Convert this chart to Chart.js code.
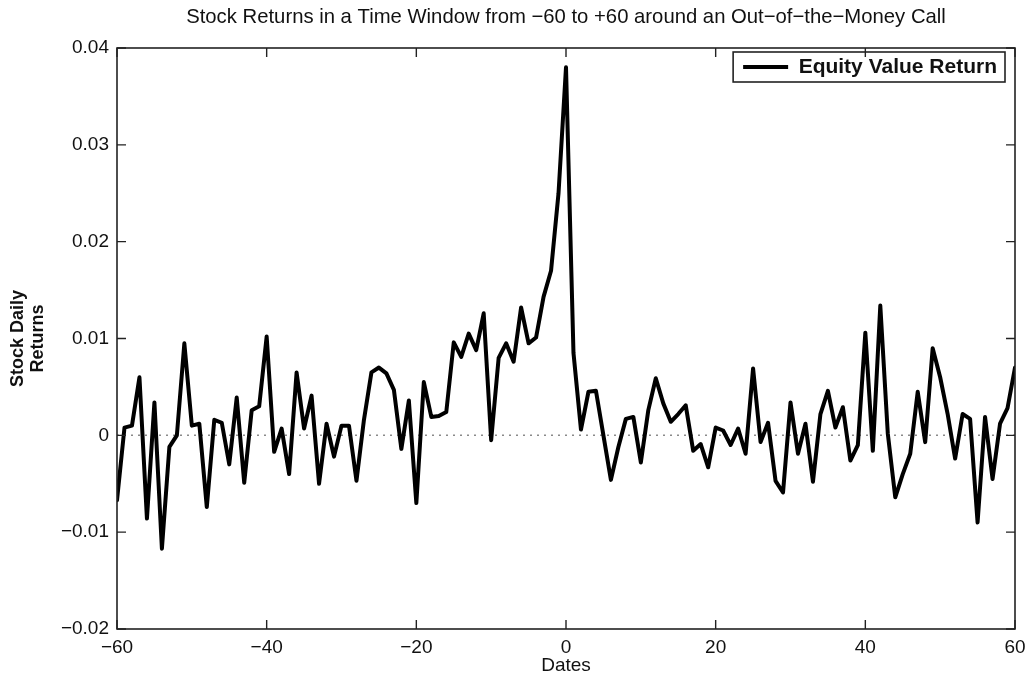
<!DOCTYPE html>
<html><head><meta charset="utf-8">
<script src="https://cdn.jsdelivr.net/npm/chart.js@4.4.0/dist/chart.umd.min.js"></script>
<style>html,body{margin:0;padding:0;background:#fff}#wrap{width:1030px;height:680px}</style>
</head><body><div id="wrap"><canvas id="c" width="1030" height="680"></canvas></div>
<script>
const titleText = 'Stock Returns in a Time Window from \u221260 to +60 around an Out\u2212of\u2212the\u2212Money Call';
const seriesName = 'Equity Value Return';
const dates = [
 -60,-59,-58,-57,-56,-55,-54,-53,-52,-51,
 -50,-49,-48,-47,-46,-45,-44,-43,-42,-41,
 -40,-39,-38,-37,-36,-35,-34,-33,-32,-31,
 -30,-29,-28,-27,-26,-25,-24,-23,-22,-21,
 -20,-19,-18,-17,-16,-15,-14,-13,-12,-11,
 -10,-9,-8,-7,-6,-5,-4,-3,-2,-1,
 0,1,2,3,4,5,6,7,8,9,
 10,11,12,13,14,15,16,17,18,19,
 20,21,22,23,24,25,26,27,28,29,
 30,31,32,33,34,35,36,37,38,39,
 40,41,42,43,44,45,46,47,48,49,
 50,51,52,53,54,55,56,57,58,59,
 60];
const returns = [
 -0.0067,0.0008,0.0010,0.0060,-0.0086,0.0034,-0.0117,-0.0012,0.0000,0.0095,
 0.0010,0.0012,-0.0074,0.0016,0.0013,-0.0030,0.0039,-0.0049,0.0026,0.0030,
 0.0102,-0.0017,0.0007,-0.0040,0.0065,0.0007,0.0041,-0.0050,0.0012,-0.0022,
 0.0010,0.0010,-0.0047,0.0016,0.0065,0.0070,0.0064,0.0047,-0.0014,0.0036,
 -0.0070,0.0055,0.0019,0.0020,0.0024,0.0096,0.0081,0.0105,0.0088,0.0126,
 -0.0005,0.0080,0.0095,0.0076,0.0132,0.0095,0.0101,0.0143,0.0170,0.0250,
 0.0380,0.0085,0.0006,0.0045,0.0046,0.0000,-0.0046,-0.0012,0.0017,0.0019,
 -0.0028,0.0026,0.0059,0.0033,0.0014,0.0022,0.0031,-0.0016,-0.0009,-0.0033,
 0.0008,0.0005,-0.0010,0.0007,-0.0019,0.0069,-0.0007,0.0013,-0.0047,-0.0059,
 0.0034,-0.0019,0.0012,-0.0048,0.0022,0.0046,0.0008,0.0029,-0.0026,-0.0010,
 0.0106,-0.0016,0.0134,0.0002,-0.0064,-0.0040,-0.0019,0.0045,-0.0007,0.0090,
 0.0060,0.0022,-0.0024,0.0022,0.0017,-0.0090,0.0019,-0.0045,0.0012,0.0028,
 0.0070];
const xTicks = [-60,-40,-20,0,20,40,60];
const yTicks = [-0.02,-0.01,0,0.01,0.02,0.03,0.04];

const FONT = "'Liberation Sans', Arial, sans-serif";
const INK = '#111';
const LEG_PAD = 10;

function fmtMinus(s) { return s.replace('-', '\u2212'); }

const framePlugin = {
  id: 'frame',
  afterLayout(chart) {
    const lg = chart.legend, a = chart.chartArea;
    if (!lg || !lg.legendHitBoxes || !lg.legendHitBoxes.length) return;
    const hb = lg.legendHitBoxes[0];
    const borderRight = a.right - 10;
    const hbLeft = borderRight - 8 - hb.width;
    const w = lg.width, h = lg.height;
    lg.left = hbLeft - LEG_PAD;
    lg.right = lg.left + w;
    lg.top = a.top + 19 - hb.height / 2 - LEG_PAD;
    lg.bottom = lg.top + h;
  },
  beforeDatasetsDraw(chart) {
    const {ctx, chartArea: a, scales: {y}} = chart;
    const py = y.getPixelForValue(0);
    ctx.save();
    ctx.strokeStyle = '#8a8a8a'; ctx.lineWidth = 1.5; ctx.setLineDash([2, 5]);
    ctx.beginPath(); ctx.moveTo(a.left, py); ctx.lineTo(a.right, py); ctx.stroke();
    ctx.restore();
  },
  afterDraw(chart) {
    const {ctx, chartArea: a, scales: {x, y}} = chart;
    ctx.save();
    ctx.fillStyle = INK;
    ctx.font = "normal 20.3px " + FONT;
    ctx.textAlign = 'center'; ctx.textBaseline = 'middle';
    ctx.fillText(titleText, (a.left + a.right) / 2, 17);
    ctx.strokeStyle = '#222'; ctx.lineWidth = 1.6;
    ctx.strokeRect(a.left, a.top, a.right - a.left, a.bottom - a.top);
    ctx.lineWidth = 1.4;
    ctx.beginPath();
    xTicks.forEach(v => {
      const px = x.getPixelForValue(v);
      ctx.moveTo(px, a.bottom); ctx.lineTo(px, a.bottom - 9);
      ctx.moveTo(px, a.top); ctx.lineTo(px, a.top + 9);
    });
    yTicks.forEach(v => {
      const py = y.getPixelForValue(v);
      ctx.moveTo(a.left, py); ctx.lineTo(a.left + 9, py);
      ctx.moveTo(a.right, py); ctx.lineTo(a.right - 9, py);
    });
    ctx.stroke();
    const hb = chart.legend && chart.legend.legendHitBoxes && chart.legend.legendHitBoxes[0];
    if (hb) {
      ctx.lineWidth = 1.6; ctx.strokeStyle = '#222';
      const cy = hb.top + hb.height / 2;
      ctx.strokeRect(hb.left - 10, cy - 15, hb.width + 18, 30);
    }
    ctx.restore();
  }
};

const points = dates.map((d, i) => ({x: d, y: returns[i]}));

new Chart(document.getElementById('c'), {
  type: 'line',
  data: {
    datasets: [{
      label: seriesName,
      data: points,
      borderColor: '#000',
      backgroundColor: '#000',
      borderWidth: 4,
      pointRadius: 0,
      tension: 0,
      fill: false,
      borderJoinStyle: 'round',
      borderCapStyle: 'round'
    }]
  },
  options: {
    responsive: false,
    animation: false,
    layout: {padding: {left: 0, right: 15, top: 48, bottom: 0}},
    plugins: {
      title: {display: false},
      legend: {
        position: 'chartArea', align: 'start',
        labels: {
          color: INK, boxWidth: 45, boxHeight: 4, padding: LEG_PAD,
          font: {family: FONT, size: 21, weight: 'bold'},
          generateLabels(chart) {
            const items = Chart.defaults.plugins.legend.labels.generateLabels(chart);
            items.forEach(it => { it.lineWidth = 0; it.fillStyle = '#000'; it.strokeStyle = '#000'; });
            return items;
          }
        }
      },
      tooltip: {enabled: false}
    },
    scales: {
      x: {
        type: 'linear', min: -60, max: 60,
        afterBuildTicks(s) { s.ticks = xTicks.map(v => ({value: v})); },
        afterFit(s) { s.height = 51; s.paddingLeft = 0; s.paddingRight = 0; },
        grid: {display: false, drawTicks: false},
        border: {display: false},
        ticks: {color: INK, padding: 7, font: {family: FONT, size: 19}, maxRotation: 0,
          callback: v => fmtMinus(String(v))},
        title: {display: true, text: 'Dates', color: INK,
          font: {family: FONT, size: 19, lineHeight: 1.2}, padding: {top: 0, bottom: 3}}
      },
      y: {
        type: 'linear', min: -0.02, max: 0.04,
        afterBuildTicks(s) { s.ticks = yTicks.map(v => ({value: v})); },
        afterFit(s) { s.width = 117; s.paddingTop = 0; s.paddingBottom = 0; },
        grid: {display: false, drawTicks: false},
        border: {display: false},
        ticks: {color: INK, padding: 8, font: {family: FONT, size: 19},
          callback: v => Math.abs(v) < 1e-9 ? '0' : fmtMinus(Number(v).toFixed(2))},
        title: {display: true, text: ['Stock Daily', 'Returns'], color: INK,
          font: {family: FONT, size: 18, weight: 'bold', lineHeight: 1.1}, padding: {top: 8, bottom: 0}}
      }
    }
  },
  plugins: [framePlugin]
});
</script>
</body></html>
